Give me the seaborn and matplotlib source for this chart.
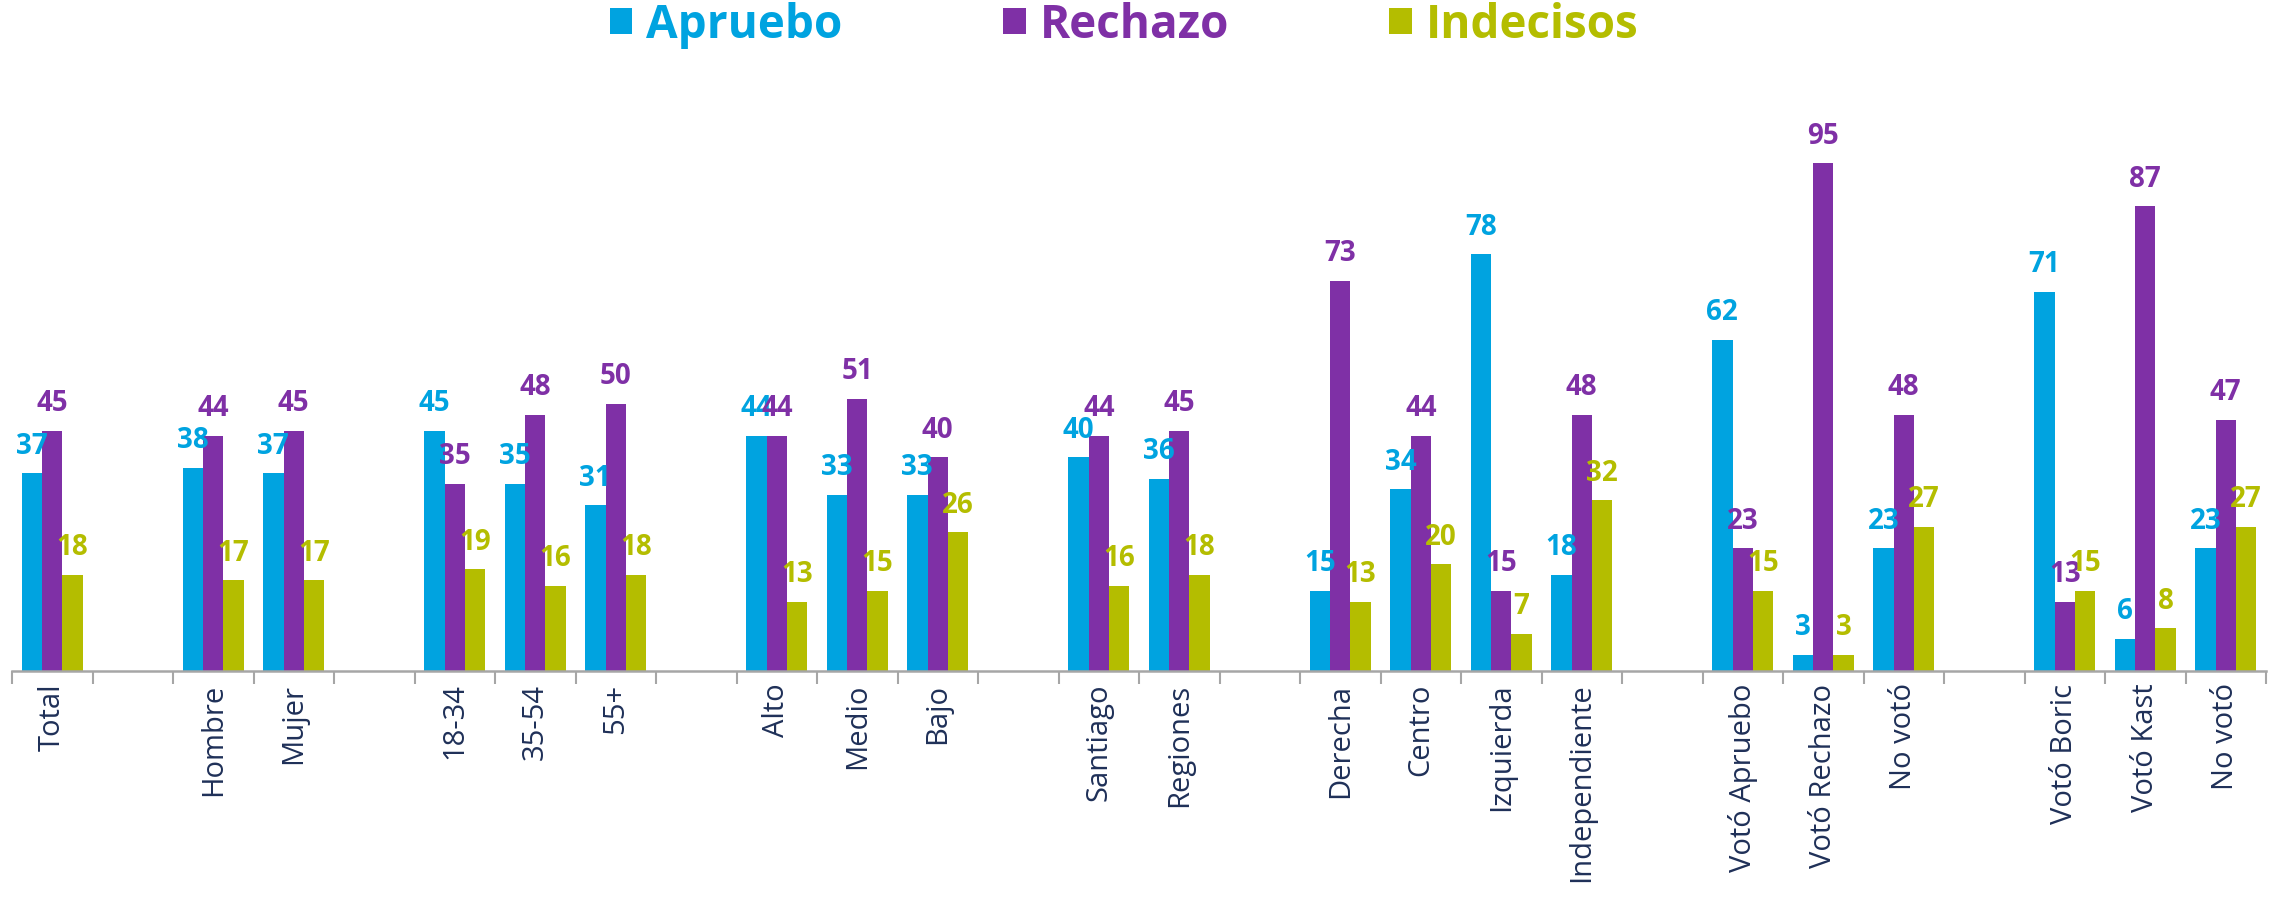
import pandas as pd
import matplotlib.pyplot as plt
import seaborn as sns
from matplotlib.patches import Patch
from matplotlib.ticker import FixedLocator

labels = ["Total", "", "Hombre", "Mujer", "", "18-34", "35-54", "55+", "",
          "Alto", "Medio", "Bajo", "", "Santiago", "Regiones", "",
          "Derecha", "Centro", "Izquierda", "Independiente", "",
          "Votó Apruebo", "Votó Rechazo", "No votó", "",
          "Votó Boric", "Votó Kast", "No votó"]

apruebo = [37, None, 38, 37, None, 45, 35, 31, None, 44, 33, 33, None, 40, 36, None,
           15, 34, 78, 18, None, 62, 3, 23, None, 71, 6, 23]
rechazo = [45, None, 44, 45, None, 35, 48, 50, None, 44, 51, 40, None, 44, 45, None,
           73, 44, 15, 48, None, 23, 95, 48, None, 13, 87, 47]
indecisos = [18, None, 17, 17, None, 19, 16, 18, None, 13, 15, 26, None, 16, 18, None,
             13, 20, 7, 32, None, 15, 3, 27, None, 15, 8, 27]

series = ["Apruebo", "Rechazo", "Indecisos"]
colors = {"Apruebo": "#00A3E0", "Rechazo": "#7F30A6", "Indecisos": "#B4BD00"}

# slot keys keep blank gaps and the repeated "No votó" apart
keys = [f"s{i}" for i in range(len(labels))]
rows = []
for name, vals in zip(series, [apruebo, rechazo, indecisos]):
    for k, v in zip(keys, vals):
        if v is not None:
            rows.append({"slot": k, "serie": name, "valor": v})
df = pd.DataFrame(rows)

plt.rcParams['font.family'] = ['Open Sans', 'DejaVu Sans']

fig = plt.figure(figsize=(22.82, 8.98), dpi=100)
ax = fig.add_axes([12 / 2282, 227 / 898, 2254 / 2282, 561 / 898])

sns.barplot(data=df, x="slot", y="valor", hue="serie", order=keys, hue_order=series,
            palette=colors, saturation=1, width=0.76, linewidth=0, ax=ax, legend=False)

for cont, name in zip(ax.containers, series):
    ax.bar_label(cont, fmt="%d", padding=9, fontsize=20, fontweight="bold",
                 color=colors[name])

ax.set_xlim(-0.5, len(keys) - 0.5)
ax.set_ylim(0, 105)
ax.set_xlabel("")
ax.set_ylabel("")
ax.set_yticks([])
for s in ["top", "right", "left"]:
    ax.spines[s].set_visible(False)
ax.spines["bottom"].set_color("#A6A6A6")
ax.spines["bottom"].set_linewidth(1.8)

ax.set_xticks(range(len(keys)))
ax.set_xticklabels(labels, rotation=90, fontsize=21, color="#1F3058")
ax.tick_params(axis="x", which="major", length=0, pad=9)
ax.xaxis.set_minor_locator(FixedLocator([i - 0.5 for i in range(len(keys) + 1)]))
ax.tick_params(axis="x", which="minor", length=9, width=1.5, color="#A6A6A6")

handles = [Patch(facecolor=colors[n]) for n in series]
leg = fig.legend(handles, series, loc="center", bbox_to_anchor=(0.4926, 0.972), ncol=3,
                 frameon=False, handlelength=0.5, handleheight=0.5,
                 handletextpad=0.3, columnspacing=3.5, prop={"weight": "bold", "size": 33})
for t, n in zip(leg.get_texts(), series):
    t.set_color(colors[n])

fig.savefig("out.png", dpi=100)
